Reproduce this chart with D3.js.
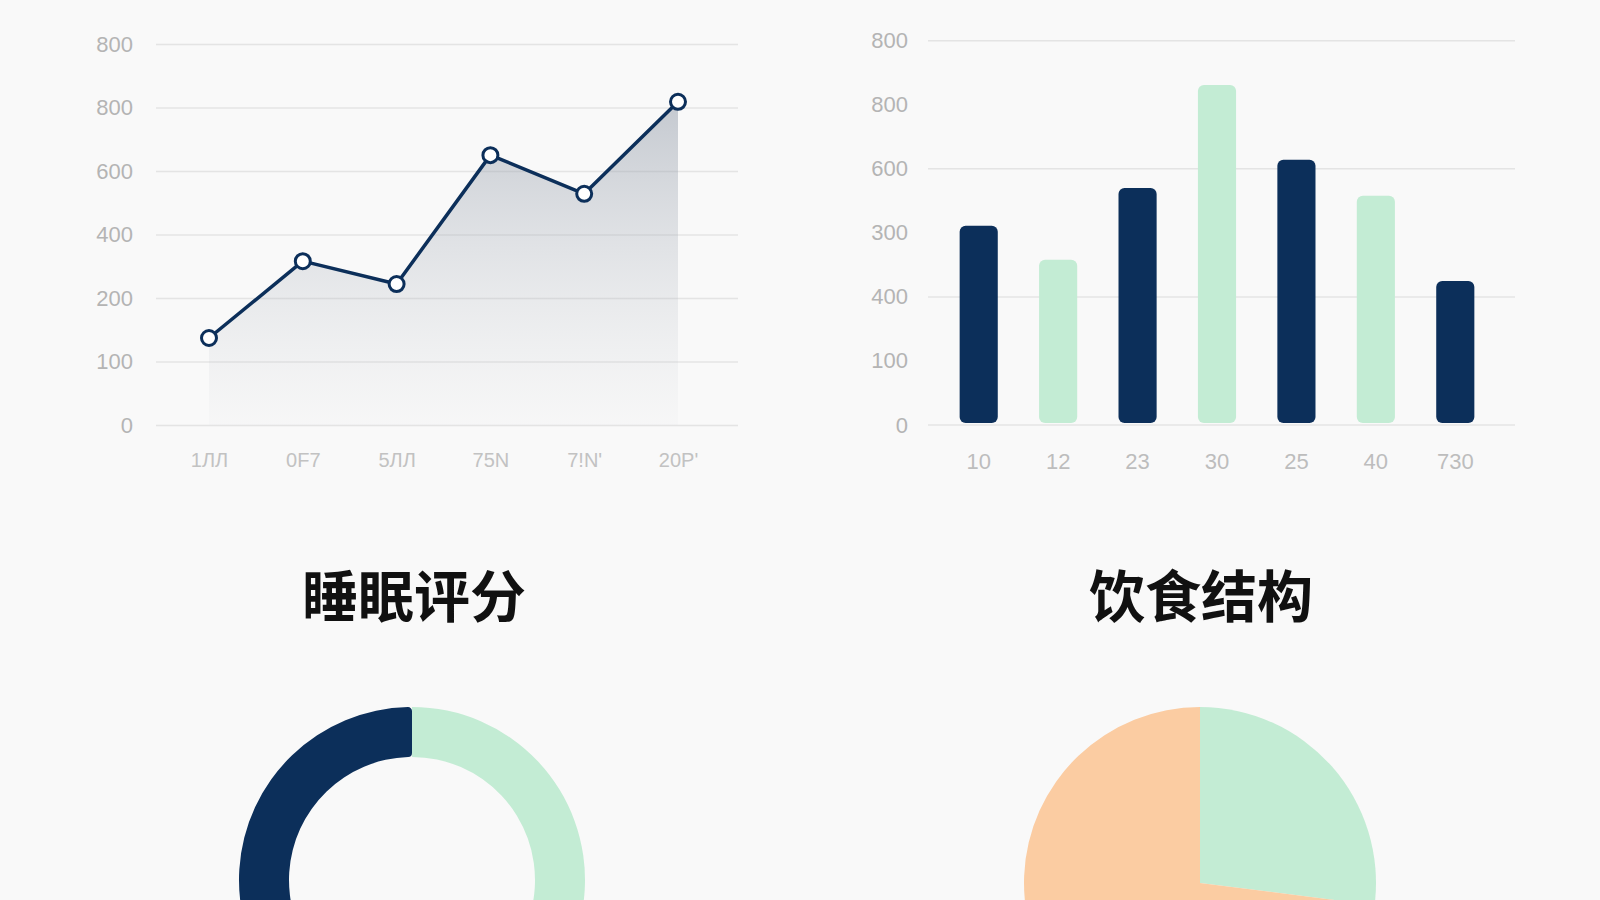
<!DOCTYPE html>
<html>
<head>
<meta charset="utf-8">
<script src="https://cdn.jsdelivr.net/npm/d3@7"></script>
<style>
  body { margin: 0; background: #f9f9f9; }
  svg { display: block; }
  .tick text { font-family: "Liberation Sans", Arial, sans-serif; fill: #b4b4b4; }
  .title { font-family: "Noto Sans CJK SC", sans-serif; font-weight: 700; fill: #111; }
</style>
</head>
<body>
<script>
// line chart (top left)
var lineCats = ["1ЛЛ", "0F7", "5ЛЛ", "75N", "7!N'", "20P'"];
var lineValues = [137, 258, 222, 425, 364, 509];
var lineYLabels = ["0", "100", "200", "400", "600", "800", "800"];

// bar chart (top right)
var barCats = ["10", "12", "23", "30", "25", "40", "730"];
var barValues = [311, 258, 370, 531, 414, 358, 225];
var barYLabels = ["0", "100", "400", "300", "600", "800", "800"];
var barGridIdx = [0, 2, 4, 6];

// donut (bottom left)
var sleepNames = ["浅睡", "深睡"];
var sleepValues = [52, 48];

// pie (bottom right)
var dietNames = ["蔬果", "主食"];
var dietValues = [27, 73];

var navy = "#0c2f5a", mint = "#c3ecd4", peach = "#fbcca2";

var svg = d3.select("body").append("svg")
  .attr("width", 1600).attr("height", 900);

var defs = svg.append("defs");
var grad = defs.append("linearGradient")
  .attr("id", "areaFill")
  .attr("gradientUnits", "userSpaceOnUse")
  .attr("x1", 0).attr("x2", 0).attr("y1", 100).attr("y2", 425);
grad.append("stop").attr("offset", "0%").attr("stop-color", "#8f98a6").attr("stop-opacity", 0.5);
grad.append("stop").attr("offset", "100%").attr("stop-color", "#c4c8ce").attr("stop-opacity", 0.05);

// ---------- line chart ----------
var lx = d3.scalePoint().domain(lineCats).range([209, 678]);
var ly = d3.scaleLinear().domain([0, 600]).range([425, 44]);

var lineG = svg.append("g");

lineG.append("g")
  .attr("transform", "translate(156,0)")
  .call(d3.axisLeft(ly).tickValues(d3.range(0, 700, 100))
    .tickFormat(function(d, i) { return lineYLabels[i]; })
    .tickSize(-582).tickPadding(23))
  .call(function(g) {
    g.select(".domain").remove();
    g.selectAll(".tick line").attr("stroke", "#e4e4e4").attr("stroke-width", 1.5);
    g.selectAll(".tick text").style("font-size", "22px");
  });

lineG.append("g")
  .attr("transform", "translate(0,425)")
  .call(d3.axisBottom(lx).tickSize(0).tickPadding(28))
  .call(function(g) {
    g.select(".domain").remove();
    g.selectAll(".tick text").style("font-size", "20px").style("fill", "#c2c2c2");
  });

var lineData = lineCats.map(function(c, i) { return {c: c, v: lineValues[i]}; });

lineG.append("path")
  .datum(lineData)
  .attr("fill", "url(#areaFill)")
  .attr("d", d3.area()
    .x(function(d) { return lx(d.c); })
    .y0(ly(0))
    .y1(function(d) { return ly(d.v); }));

lineG.append("path")
  .datum(lineData)
  .attr("fill", "none")
  .attr("stroke", navy)
  .attr("stroke-width", 3.5)
  .attr("stroke-linejoin", "round")
  .attr("d", d3.line()
    .x(function(d) { return lx(d.c); })
    .y(function(d) { return ly(d.v); }));

lineG.selectAll("circle")
  .data(lineData)
  .enter().append("circle")
  .attr("cx", function(d) { return lx(d.c); })
  .attr("cy", function(d) { return ly(d.v); })
  .attr("r", 7.5)
  .attr("fill", "#fff")
  .attr("stroke", navy)
  .attr("stroke-width", 3);

// ---------- bar chart ----------
var bx = d3.scaleBand().domain(barCats).range([939, 1495])
  .paddingInner(0.52).paddingOuter(0.26);
var by = d3.scaleLinear().domain([0, 600]).range([425, 40.7]);

var barG = svg.append("g");

barG.selectAll(".grid")
  .data(barGridIdx)
  .enter().append("line")
  .attr("x1", 928).attr("x2", 1515)
  .attr("y1", function(i) { return by(i * 100); })
  .attr("y2", function(i) { return by(i * 100); })
  .attr("stroke", "#e4e4e4").attr("stroke-width", 1.5);

barG.append("g")
  .attr("transform", "translate(928,0)")
  .call(d3.axisLeft(by).tickValues(d3.range(0, 700, 100))
    .tickFormat(function(d, i) { return barYLabels[i]; })
    .tickSize(0).tickPadding(20))
  .call(function(g) {
    g.select(".domain").remove();
    g.selectAll(".tick text").style("font-size", "22px");
  });

barG.append("g")
  .attr("transform", "translate(0,425)")
  .call(d3.axisBottom(bx).tickSize(0).tickPadding(28))
  .call(function(g) {
    g.select(".domain").remove();
    g.selectAll(".tick text").style("font-size", "22px").style("fill", "#bdbdbd");
  });

barG.selectAll("rect")
  .data(barValues)
  .enter().append("rect")
  .attr("x", function(d, i) { return bx(barCats[i]); })
  .attr("width", bx.bandwidth())
  .attr("y", function(d) { return by(d); })
  .attr("height", function(d) { return by(0) - 2 - by(d); })
  .attr("rx", 6)
  .attr("fill", function(d, i) { return i % 2 === 0 ? navy : mint; });

// ---------- titles ----------
svg.append("text").attr("class", "title")
  .attr("x", 414).attr("y", 617)
  .attr("text-anchor", "middle").style("font-size", "56px")
  .text("睡眠评分");
svg.append("text").attr("class", "title")
  .attr("x", 1201).attr("y", 617)
  .attr("text-anchor", "middle").style("font-size", "56px")
  .text("饮食结构");

// ---------- donut ----------
var sleepPie = d3.pie().sort(null)(sleepValues);
var donutArc = d3.arc().innerRadius(123).outerRadius(173);
var donutColors = [mint, navy];

svg.append("g")
  .attr("transform", "translate(412,880)")
  .selectAll("path")
  .data(sleepPie)
  .enter().append("path")
  .attr("d", function(d, i) { return donutArc.cornerRadius(i === 1 ? 4 : 0)(d); })
  .attr("fill", function(d, i) { return donutColors[i]; });

// ---------- pie ----------
var dietPie = d3.pie().sort(null)(dietValues);
var pieArc = d3.arc().innerRadius(0).outerRadius(176);
var pieColors = [mint, peach];

svg.append("g")
  .attr("transform", "translate(1200,883)")
  .selectAll("path")
  .data(dietPie)
  .enter().append("path")
  .attr("d", pieArc)
  .attr("fill", function(d, i) { return pieColors[i]; });
</script>
</body>
</html>
